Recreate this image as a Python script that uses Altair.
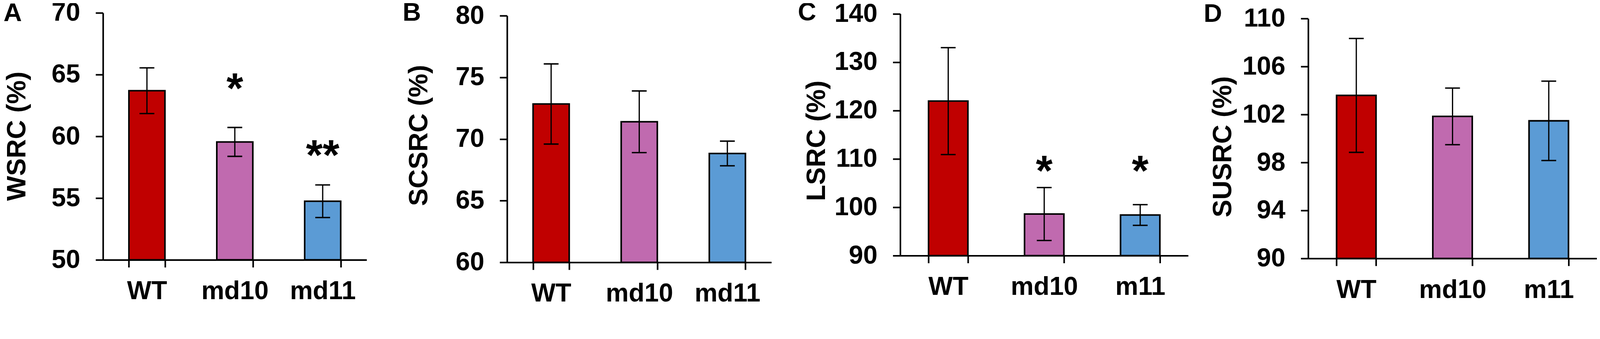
import altair as alt
import pandas as pd

FONT = "Liberation Sans"

# ---------------- data ----------------
panel_letters = ["A", "B", "C", "D"]
y_titles = ["WSRC (%)", "SCSRC (%)", "LSRC (%)", "SUSRC (%)"]
groups_a = ["WT", "md10", "md11"]
groups_b = ["WT", "md10", "md11"]
groups_c = ["WT", "md10", "m11"]
groups_d = ["WT", "md10", "m11"]
bar_colors = ["#C00000", "#C06AAF", "#5B9BD5"]

wsrc_mean = [63.70, 59.55, 54.75]
wsrc_err = [1.85, 1.17, 1.32]
scsrc_mean = [72.84, 71.40, 68.83]
scsrc_err = [3.25, 2.50, 1.00]
lsrc_mean = [121.95, 98.60, 98.40]
lsrc_err = [11.05, 5.47, 2.14]
susrc_mean = [103.60, 101.85, 101.48]
susrc_err = [4.75, 2.36, 3.31]

stars_a = ["", "*", "**"]
star_level_a = [None, 64.74, 59.31]
stars_c = ["", "*", "*"]
star_level_c = [None, 109.7, 109.7]

y_domains = [[50, 70], [60, 80], [90, 140], [90, 110]]
y_ticks = [[50, 55, 60, 65, 70], [60, 65, 70, 75, 80],
           [90, 100, 110, 120, 130, 140], [90, 94, 98, 102, 106, 110]]

groups = [groups_a, groups_b, groups_c, groups_d]
means = [wsrc_mean, scsrc_mean, lsrc_mean, susrc_mean]
errors = [wsrc_err, scsrc_err, lsrc_err, susrc_err]
stars = [stars_a, None, stars_c, None]
star_levels = [star_level_a, None, star_level_c, None]

# ---------------- layout / styling ----------------
widths = [747, 749, 816, 818]
heights = [700, 707, 688, 696]
range_tops = [0, 8, 2.5, 16.4]
title_x = [-220, -227, -214, -218]
title_y = [349, 347, 362, 379]
letter_x = [-282, -296, -290, -296]
letter_y = [23, 22, 21, 25]
spacer_x = [-282, -397, -364, -339]

TICK_FS = 73
TITLE_FS = 75
STAR_FS = 122


def panel(i):
    g = groups[i]
    m = means[i]
    e = errors[i]
    df = pd.DataFrame({
        "g": g,
        "mean": m,
        "lo": [a - b for a, b in zip(m, e)],
        "hi": [a + b for a, b in zip(m, e)],
        "col": bar_colors,
    })
    xs = alt.Scale(domain=g, paddingInner=0.59, paddingOuter=0.295)
    ys = alt.Scale(domain=y_domains[i], range=[heights[i], range_tops[i]],
                   zero=False, nice=False)
    x_axis = alt.Axis(title=None, labelAngle=0, tickBand="extent", tickSize=21,
                      tickWidth=4.5, tickColor="black", domainWidth=4.5,
                      domainColor="black", labelFont=FONT, labelFontWeight="bold",
                      labelFontSize=TICK_FS, labelColor="black", labelPadding=32,
                      labelLimit=1000, grid=False)
    y_axis = alt.Axis(title=y_titles[i], values=y_ticks[i], tickSize=21, tickWidth=4.5,
                      tickColor="black", domainWidth=4.5, domainColor="black",
                      labelFont=FONT, labelFontWeight="bold", labelFontSize=TICK_FS,
                      labelColor="black", labelPadding=44, labelOverlap=False,
                      labelLimit=1000, grid=False,
                      titleFont=FONT, titleFontWeight="bold", titleFontSize=TITLE_FS,
                      titleColor="black", titleAngle=270, titleBaseline="alphabetic",
                      titleAlign="center", titleX=title_x[i], titleY=title_y[i])
    X = alt.X("g:N", scale=xs, sort=g, axis=x_axis)
    base = alt.Chart(df)
    bars = base.mark_bar(stroke="black", strokeWidth=4.5).encode(
        x=X,
        y=alt.Y("mean:Q", scale=ys, axis=y_axis),
        y2=alt.datum(y_domains[i][0]),
        fill=alt.Fill("col:N", scale=None),
    )
    err = base.mark_rule(color="black", strokeWidth=3.5).encode(
        x=X, y=alt.Y("lo:Q", scale=ys, axis=y_axis), y2="hi:Q")
    cap_lo = base.mark_tick(color="black", thickness=4, size=42, orient="horizontal",
                            opacity=1).encode(x=X, y=alt.Y("lo:Q", scale=ys, axis=y_axis))
    cap_hi = base.mark_tick(color="black", thickness=4, size=42, orient="horizontal",
                            opacity=1).encode(x=X, y=alt.Y("hi:Q", scale=ys, axis=y_axis))
    layers = [bars, err, cap_lo, cap_hi]
    if stars[i] is not None:
        sdf = pd.DataFrame({"g": g, "s": stars[i], "lvl": star_levels[i]})
        sdf = sdf[sdf["s"] != ""]
        st = alt.Chart(sdf).mark_text(font=FONT, fontWeight="bold", fontSize=STAR_FS,
                                      baseline="middle", align="center", dy=33,
                                      color="black").encode(
            x=X, y=alt.Y("lvl:Q", scale=ys, axis=y_axis), text="s:N")
        layers.append(st)
    letter = alt.Chart(pd.DataFrame({"t": [panel_letters[i]]})).mark_text(
        font=FONT, fontWeight="bold", fontSize=72, align="left",
        baseline="alphabetic", color="black").encode(
        text="t:N", x=alt.value(letter_x[i]), y=alt.value(letter_y[i]))
    spacer = alt.Chart(pd.DataFrame({"k": [0]})).mark_rule(
        color="white", strokeWidth=1).encode(
        x=alt.value(spacer_x[i]), y=alt.value(0), y2=alt.value(10))
    layers += [letter, spacer]
    return alt.layer(*layers).properties(width=widths[i], height=heights[i])


chart = alt.hconcat(*[panel(i) for i in range(4)], spacing=0).configure_view(
    stroke=None).properties(padding={"left": 0, "top": -53, "right": 0, "bottom": 0},
                            background="white")

chart.save("out.html", embed_options={"renderer": "svg", "actions": False})
